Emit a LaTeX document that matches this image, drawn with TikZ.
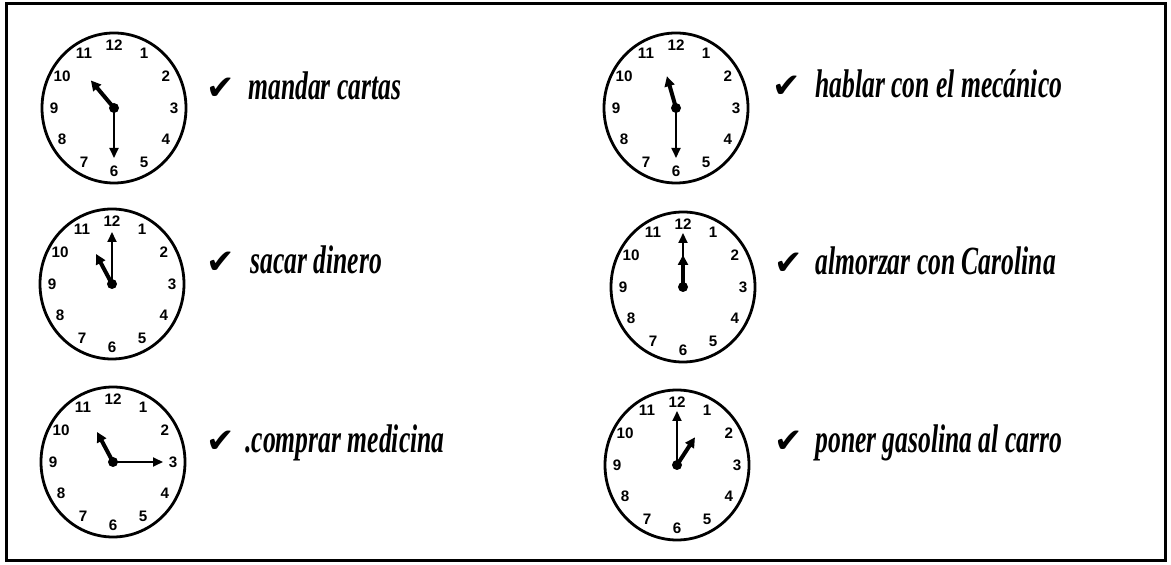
\documentclass[tikz,border=0pt]{standalone}
\usepackage{fontspec}
\usepackage{tikz}
\usetikzlibrary{arrows.meta,calc,shapes.geometric}

\newfontfamily\handfont[FakeStretch=0.64]{Liberation Serif}
\newfontfamily\numfont{Liberation Sans}
\newfontfamily\tickfont{DejaVu Sans}

\begin{document}
\begin{tikzpicture}[
    x=0.5pt, y=0.5pt,
    frame/.style = {draw, line width=1.5pt},
    dial/.style  = {draw, ellipse, line width=1.4pt, inner sep=0pt,
                    minimum width=72pt, minimum height=75pt},
    num/.style   = {inner sep=0pt, font=\numfont\bfseries\fontsize{7.6}{7.6}\selectfont},
    pivot/.style = {circle, fill, inner sep=0pt, minimum size=5pt},
    hourhand/.style = {line width=2pt, -{Triangle[length=5pt,width=5pt]}},
    minhand/.style  = {line width=0.9pt, -{Triangle[length=5pt,width=4.5pt]}},
    tick/.style  = {inner sep=0pt, anchor=base west,
                    font=\tickfont\fontsize{17}{17}\selectfont},
    task/.style  = {inner sep=0pt, anchor=base west,
                    font=\handfont\bfseries\itshape\fontsize{20}{20}\selectfont}
  ]
  \useasboundingbox (0,0) rectangle (1171,-565);

  %–––– outer frame ––––
  \draw[frame] (6,-4) rectangle (1165,-561);

  %–––– clocks: name / x / y / hour angle / hour length / minute angle / minute length ––––
  \foreach \c/\x/\y/\ha/\hl/\ma/\ml in {
      c1/114/-108/130/36/270/50,
      c2/676/-108/106/33/270/50,
      c3/112/-284/118/34/90/52,
      c4/683/-287/90/32/90/54,
      c5/113/-462/118/34/0/50,
      c6/677/-465/57/33/90/54} {
    \node[dial] (\c) at (\x,\y) {};
    \foreach \h in {1,...,12}
      \node[num] (\c n\h) at ($(\c)+({90-30*\h}:60 and 63)$) {\h};
    \node[pivot] (\c p) at (\c) {};
    \coordinate (\c m) at ($(\c)+(\ma:\ml)$);
    \coordinate (\c h) at ($(\c)+(\ha:\hl)$);
    \draw[minhand]  (\c p.center) -- (\c m);
    \draw[hourhand] (\c p.center) -- (\c h);
  }

  %–––– tasks ––––
  \node[tick] (k1) at (206,-100) {✔};
  \node[task] (t1) at (248,-100) {mandar cartas};
  \node[tick] (k2) at (772,-98)  {✔};
  \node[task] (t2) at (815,-98)  {hablar con el mecánico};
  \node[tick] (k3) at (206,-274) {✔};
  \node[task] (t3) at (250,-274) {sacar dinero};
  \node[tick] (k4) at (774,-275) {✔};
  \node[task] (t4) at (815,-275) {almorzar con Carolina};
  \node[tick] (k5) at (206,-453) {✔};
  \node[task] (t5) at (245,-453) {.comprar medicina};
  \node[tick] (k6) at (774,-453) {✔};
  \node[task] (t6) at (815,-453) {poner gasolina al carro};

\end{tikzpicture}
\end{document}
